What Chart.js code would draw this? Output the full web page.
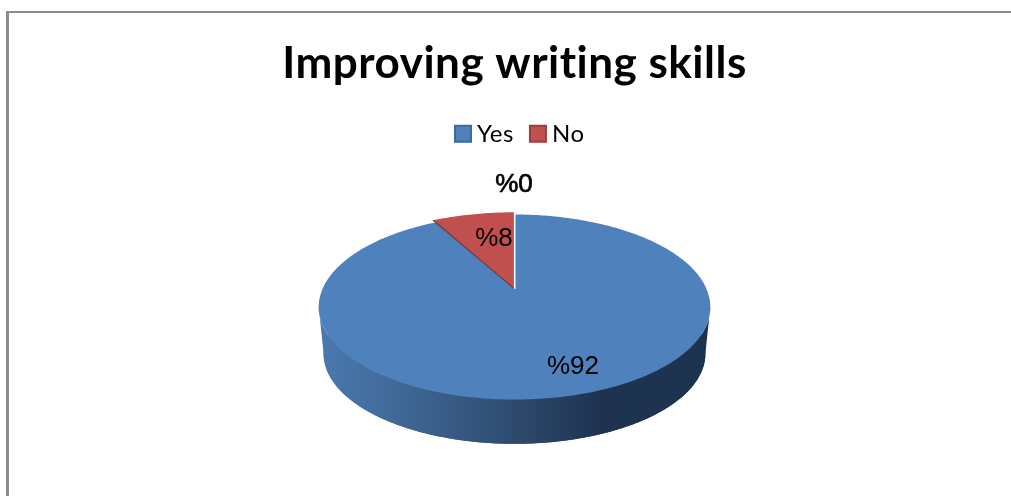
<!DOCTYPE html>
<html>
<head>
<meta charset="utf-8">
<title>Improving writing skills</title>
<style>
  html, body { margin: 0; padding: 0; background: #fff; overflow: hidden; }
  canvas { display: block; }
</style>
<script src="https://cdn.jsdelivr.net/npm/chart.js@4"></script>
</head>
<body>
<canvas id="chart" width="1011" height="496"></canvas>
<script>
const chartTitle = 'Improving writing skills';
const categories = ['Yes', 'No', ''];
const percentages = [92, 8, 0];
const valueLabels = ['%92', '%8', '%0'];

const sliceColors = ['#4f81bd', '#c0504d', '#9bbb59'];
const sliceBorders = ['#3a6a9f', '#9c3e3c', '#9bbb59'];

// Screen offsets of the value labels from the pie centre.
const labelOffsets = [[58.5, 78], [-20.5, -50], [-0.5, -104.5]];

// Perspective settings for the tilted disc.
const tilt = { squash: 0.4634, perspective: 0.196, depth: 47, baseScale: 0.975 };

// Horizontal nudge of the legend row.
const legendShift = 7;

function projector(cx, cy, radius) {
  return (u, v) => {
    const s = 1 / (1 - tilt.perspective * v);
    return [cx + radius * u * s, cy + radius * tilt.squash * v * s];
  };
}

function traceSweep(ctx, project, from, to, scale) {
  const steps = Math.max(8, Math.ceil(Math.abs(to - from) * 60));
  for (let i = 0; i <= steps; i++) {
    const a = from + (to - from) * i / steps;
    const p = project(Math.cos(a) * scale, Math.sin(a) * scale);
    ctx.lineTo(p[0], p[1]);
  }
}

const tiltedPie = {
  id: 'tiltedPie',
  afterLayout(chart) {
    chart.legend.left += legendShift;
    chart.legend.right += legendShift;
  },
  beforeDraw(chart) {
    // Frame around the plot, running off the right and bottom edges.
    const ctx = chart.ctx;
    ctx.save();
    ctx.fillStyle = '#8c8c8c';
    ctx.fillRect(6, 11, 3, chart.height - 11);
    ctx.fillRect(6, 11, chart.width - 6, 2);
    ctx.restore();
    // Tiny tracking keeps the title and legend letters separate, without ligatures.
    ctx.letterSpacing = '0.5px';
  },
  beforeDatasetsDraw(chart) {
    const ctx = chart.ctx;
    const arcs = chart.getDatasetMeta(0).data;
    const centre = arcs[0].getProps(['x', 'y', 'outerRadius'], true);
    const project = projector(centre.x, centre.y, centre.outerRadius);

    // Side wall: lower rim pushed down and pulled in, shaded left to right.
    const baseY = centre.y + tilt.depth;
    const lower = projector(centre.x, baseY, centre.outerRadius * tilt.baseScale);
    const edge = centre.outerRadius * 1.02;
    const wall = ctx.createLinearGradient(centre.x - edge, 0, centre.x + edge, 0);
    wall.addColorStop(0, '#4a79b0');
    wall.addColorStop(0.22, '#3f6794');
    wall.addColorStop(0.5, '#2d4a6e');
    wall.addColorStop(0.72, '#1f3350');
    wall.addColorStop(1, '#1e3350');
    ctx.save();
    ctx.letterSpacing = '0px';
    ctx.fillStyle = wall;
    ctx.beginPath();
    const rimLeft = Math.PI - Math.asin(tilt.perspective);
    const rimRight = Math.asin(tilt.perspective);
    traceSweep(ctx, project, rimRight, rimLeft, 1);
    traceSweep(ctx, lower, rimLeft, rimRight, 1);
    ctx.closePath();
    ctx.fill();
    ctx.beginPath();
    traceSweep(ctx, lower, 0, Math.PI * 2, 1);
    ctx.closePath();
    ctx.fill();

    // Top face: the full disc in the first colour, then the raised wedge.
    ctx.fillStyle = arcs[0].options.backgroundColor;
    ctx.beginPath();
    traceSweep(ctx, project, 0, Math.PI * 2, 1);
    ctx.closePath();
    ctx.fill();

    arcs.slice(1).forEach(arc => {
      const p = arc.getProps(['startAngle', 'endAngle', 'outerRadius'], true);
      if (p.endAngle - p.startAngle < 1e-6) return;
      const grow = 1 + (arc.options.offset || 0) / p.outerRadius;
      const apex = project(0, 0);
      ctx.fillStyle = arc.options.backgroundColor;
      ctx.beginPath();
      ctx.moveTo(apex[0], apex[1]);
      traceSweep(ctx, project, p.startAngle, p.endAngle, grow);
      ctx.closePath();
      ctx.fill();

      // Dark shaded cut along the leading edge of the wedge.
      const lead = project(Math.cos(p.startAngle) * grow, Math.sin(p.startAngle) * grow);
      ctx.strokeStyle = '#6d3a3f';
      ctx.lineWidth = 1.2;
      ctx.beginPath();
      ctx.moveTo(apex[0], apex[1]);
      ctx.lineTo(lead[0], lead[1]);
      ctx.stroke();

      // White seam where the wedge meets the disc at twelve o'clock.
      const tail = project(Math.cos(p.endAngle) * grow, Math.sin(p.endAngle) * grow);
      ctx.strokeStyle = '#ffffff';
      ctx.lineWidth = 1.6;
      ctx.beginPath();
      ctx.moveTo(apex[0] + 0.2, apex[1]);
      ctx.lineTo(tail[0] + 0.2, tail[1]);
      ctx.stroke();
    });

    // Value labels.
    ctx.fillStyle = '#000';
    ctx.textAlign = 'center';
    ctx.textBaseline = 'middle';
    valueLabels.forEach((text, i) => {
      const x = centre.x + labelOffsets[i][0];
      const y = centre.y + labelOffsets[i][1];
      ctx.font = '26px "Liberation Sans", Arial, sans-serif';
      ctx.fillText(text, x, y);
      if (percentages[i] === 0) {
        ctx.strokeStyle = '#000';
        ctx.lineWidth = 0.7;
        ctx.strokeText(text, x, y);
      }
    });
    ctx.restore();
    return false;
  }
};

new Chart(document.getElementById('chart'), {
  type: 'pie',
  data: {
    labels: categories,
    datasets: [{
      data: percentages,
      backgroundColor: sliceColors,
      borderColor: sliceBorders,
      borderWidth: 2,
      offset: [0, 7, 0]
    }]
  },
  plugins: [tiltedPie],
  options: {
    responsive: false,
    animation: false,
    radius: 192,
    layout: { padding: { left: 18, bottom: 74 } },
    plugins: {
      tooltip: { enabled: false },
      title: {
        display: true,
        text: chartTitle,
        color: '#000',
        font: { family: 'Lato, sans-serif', size: 44, weight: 'bold', lineHeight: 1.2 },
        padding: { top: 37, bottom: 10 }
      },
      legend: {
        display: true,
        position: 'top',
        labels: {
          color: '#000',
          font: { family: 'Lato, sans-serif', size: 24 },
          usePointStyle: true,
          pointStyle: 'rect',
          boxWidth: 4,
          boxHeight: 16,
          padding: 22,
          filter: item => item.text !== ''
        }
      }
    }
  }
});
</script>
</body>
</html>
